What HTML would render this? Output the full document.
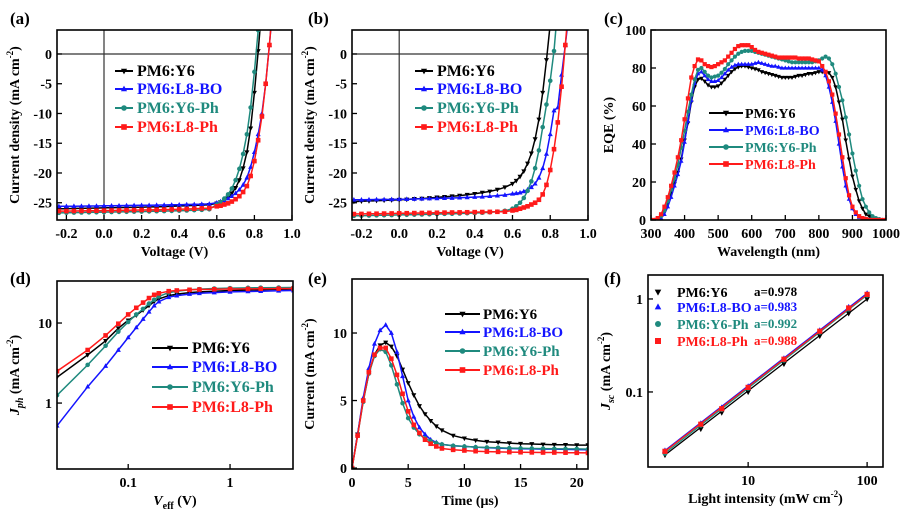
<!DOCTYPE html>
<html><head><meta charset="utf-8">
<style>
html,body{margin:0;padding:0;background:#fff;}
svg{display:block;font-family:"Liberation Serif",serif;font-weight:bold;}
</style></head>
<body>
<svg id="fig" width="909" height="519" viewBox="0 0 909 519" xmlns="http://www.w3.org/2000/svg"></svg>
<script>
// ---------- DATA ----------
// (a) J-V
const aV = [-0.24,-0.2,-0.16,-0.12,-0.08,-0.04,0,0.04,0.08,0.12,0.16,0.2,0.24,0.28,0.32,0.36,0.4,0.44,0.48,0.52,0.56,0.6,0.62,0.64,0.66,0.68,0.7,0.72,0.74,0.76,0.78,0.8,0.82,0.84,0.86,0.88,0.9];
const aY6 = [-26.0,-26.0,-25.95,-25.95,-25.9,-25.9,-25.85,-25.85,-25.8,-25.8,-25.75,-25.75,-25.7,-25.7,-25.65,-25.6,-25.55,-25.5,-25.45,-25.4,-25.35,-25.1,-24.9,-24.6,-24.1,-23.4,-22.5,-21.2,-19.2,-16.5,-12.5,-6.5,0.5,8,15,22,30];
const aBO = [-25.6,-25.6,-25.58,-25.56,-25.55,-25.54,-25.52,-25.5,-25.48,-25.46,-25.45,-25.43,-25.42,-25.4,-25.38,-25.35,-25.33,-25.3,-25.27,-25.24,-25.2,-25.0,-24.8,-24.6,-24.3,-23.9,-23.4,-22.8,-22.0,-20.8,-19.0,-16.5,-13.5,-10,-5,1.5,9];
const aY6Ph = [-26.7,-26.68,-26.66,-26.64,-26.62,-26.6,-26.58,-26.56,-26.54,-26.52,-26.5,-26.48,-26.46,-26.43,-26.4,-26.37,-26.33,-26.3,-26.25,-26.2,-26.1,-25.3,-24.9,-24.3,-23.6,-22.6,-21.2,-19.3,-16.8,-13.5,-9,-3,4,12,20,28,35];
const aL8Ph = [-26.4,-26.4,-26.38,-26.37,-26.35,-26.34,-26.32,-26.3,-26.28,-26.26,-26.24,-26.22,-26.2,-26.18,-26.15,-26.12,-26.1,-26.05,-26.0,-25.95,-25.9,-25.6,-25.5,-25.3,-25.1,-24.8,-24.4,-23.9,-23.2,-22.2,-20.5,-18,-14.5,-10.5,-5,1.5,9];
// (b) J-V
const bV = aV;
const bY6 = [-24.8,-24.75,-24.7,-24.65,-24.6,-24.55,-24.5,-24.45,-24.35,-24.3,-24.2,-24.1,-24.0,-23.9,-23.8,-23.65,-23.5,-23.3,-23.1,-22.8,-22.4,-21.8,-21.3,-20.6,-19.7,-18.4,-16.7,-14.3,-11,-6.5,-1,5,12,20,28,35,42];
const bBO = [-24.5,-24.5,-24.48,-24.46,-24.45,-24.43,-24.42,-24.4,-24.37,-24.34,-24.3,-24.27,-24.23,-24.2,-24.15,-24.1,-24.05,-24.0,-23.9,-23.8,-23.7,-23.5,-23.4,-23.3,-23.1,-22.8,-22.4,-21.8,-20.8,-19.2,-16.8,-13.5,-9.5,-9,-3.5,1.5,7];
const bY6Ph = [-27.2,-27.18,-27.15,-27.12,-27.1,-27.08,-27.05,-27.02,-27.0,-26.97,-26.94,-26.9,-26.87,-26.84,-26.8,-26.76,-26.72,-26.68,-26.6,-26.5,-26.35,-26.0,-25.6,-25.0,-24.2,-23.0,-21.4,-19.2,-16.2,-12.3,-8.5,-4.5,0.5,8,16,24,32];
const bL8Ph = [-26.9,-26.88,-26.86,-26.84,-26.82,-26.8,-26.78,-26.76,-26.74,-26.72,-26.7,-26.68,-26.66,-26.64,-26.62,-26.6,-26.58,-26.56,-26.54,-26.52,-26.5,-26.3,-26.2,-26.0,-25.8,-25.6,-25.3,-25.0,-24.5,-23.6,-22.0,-19.5,-16,-11.5,-5.5,1.5,9];
// (c) EQE
const cWl = [300,310,320,330,340,350,360,370,380,390,400,410,420,430,440,450,460,470,480,490,500,510,520,530,540,550,560,570,580,590,600,610,620,630,640,650,660,670,680,690,700,710,720,730,740,750,760,770,780,790,800,810,820,830,840,850,860,870,880,890,900,910,920,930,940,950,960,970,980,990,1000];
const cY6 = [0,0,0.5,2,5,9,14,19,25,32,42,51,62,70,74,74.5,73,71,70,70,70.5,72,74,76,78,79.5,80.5,81,81,80.5,80,79.5,79,78,77.5,77,76.5,76,75.5,75,75,75,75,75.5,76,76,76.5,77,77,77.5,78,78,77.5,77.5,75,70,62,53,42,32,23,16,10,6,3,2,1,0.5,0.2,0,0];
const cBO = [0,0,0,1,3,7,12,18,24,31,41,52,63,72,77,78,76,74,73,73,73.5,75,77,79,80.5,81.5,82,82,82,82,82,82.5,83,82.5,82,81.5,81,81,80.5,80,80,80,80,80,80,80,80,80,80,80,80,79,76,70,62,52,40,28,18,11,6,3,1.5,0.5,0,0,0,0,0,0,0];
const cY6Ph = [0,0,1,2,5,10,16,22,29,38,47,57,66,74,79,80,78,76,75,75.5,76,77.5,79.5,82,84,86,87.5,88.5,89,89,89,88.5,88,87.5,87,86.5,86,85.5,85,84.5,84,83.5,83,83,83,83,83,83,83,83.5,84,85,86,85,82,77,70,63,54,45,35,26,18,11,7,4,2,1,0.5,0,0];
const cL8Ph = [0,0,1,3,7,12,18,25,33,42,53,64,75,81,84.5,84,82,81,80.5,81,82,83,84,86,88,90,91.5,92,92,92,91,89.5,88.5,88,87.5,87,86.5,86,85.5,85.5,85.5,85.5,85.5,85.5,85,85,85,85,84.5,84,83.5,81,78,73,66,56,45,33,22,13,7,4,2,1,0.5,0,0,0,0,0,0];
// (d) Jph vs Veff
const dV = [0.02,0.04,0.06,0.08,0.1,0.12,0.14,0.16,0.18,0.2,0.25,0.3,0.4,0.5,0.7,1,1.5,2,3,4.2];
const dY6 = [2.1,4.0,6.0,8.6,10.8,12.5,14.5,16.5,18.5,20,22,23,24,24.5,25,25.5,25.8,26,26.3,26.5];
const dBO = [0.52,1.6,2.9,4.6,6.6,8.8,11.2,13.8,16.5,18.5,21,22,23,23.5,24,24.5,24.8,25,25.3,25.5];
const dY6Ph = [1.25,3.0,5.2,7.8,10.3,12.8,15,17.5,19.5,21.5,24,25,26,26.5,27,27.3,27.5,27.6,27.7,27.8];
const dL8Ph = [2.5,4.6,7.0,9.8,12.8,15.5,18,20.5,22.5,23.5,25,25.5,26,26.2,26.4,26.6,26.7,26.8,26.9,27];
// (e) transient current
const eT = [0,0.5,1,1.5,2,2.5,3,3.5,4,4.5,5,5.5,6,6.5,7,7.5,8,9,10,11,12,13,14,15,16,17,18,19,20,21];
const eY6 = [0,2.5,5,7,8.4,9.1,9.3,9.0,8.3,7.3,6.3,5.4,4.6,4.0,3.5,3.1,2.8,2.4,2.2,2.05,1.95,1.9,1.85,1.8,1.78,1.75,1.73,1.72,1.7,1.7];
const eBO = [0,2.5,5.2,7.4,9.2,10.2,10.6,10.0,8.6,6.8,5.0,3.8,3.0,2.5,2.1,1.9,1.75,1.65,1.6,1.55,1.5,1.48,1.45,1.43,1.42,1.4,1.4,1.38,1.37,1.36];
const eY6Ph = [0,2.4,4.9,7.0,8.3,8.8,8.6,7.6,6.2,4.8,3.7,3.0,2.5,2.2,2.0,1.85,1.75,1.65,1.6,1.55,1.52,1.5,1.48,1.46,1.45,1.44,1.43,1.42,1.42,1.4];
const eL8Ph = [0,2.4,5,7.1,8.4,8.9,8.9,8.1,6.9,5.5,4.2,3.2,2.6,2.1,1.8,1.6,1.45,1.35,1.3,1.25,1.22,1.2,1.18,1.17,1.16,1.15,1.15,1.14,1.13,1.12];
// (f) Jsc vs light intensity
const fP = [2,4,6,10,20,40,70,100];
const fY6 = [0.021,0.04,0.06,0.1,0.2,0.4,0.7,1.0];
const fBO = [0.0235,0.046,0.068,0.115,0.23,0.46,0.82,1.15];
const fY6Ph = [0.022,0.044,0.065,0.11,0.22,0.44,0.78,1.1];
const fL8Ph = [0.023,0.045,0.066,0.112,0.225,0.45,0.8,1.12];
const seriesNames = ["PM6:Y6","PM6:L8-BO","PM6:Y6-Ph","PM6:L8-Ph"];
const fSlopes = ["a=0.978","a=0.983","a=0.992","a=0.988"];
const ticksAx = [-0.2,0,0.2,0.4,0.6,0.8,1.0];
const ticksAy = [0,-5,-10,-15,-20,-25];
const ticksCx = [300,400,500,600,700,800,900,1000];
const ticksCy = [0,20,40,60,80,100];
const ticksDx = [0.1,1];
const ticksDy = [1,10];
const ticksEx = [0,5,10,15,20];
const ticksEy = [0,5,10];
const ticksFx = [10,100];
const ticksFy = [0.1,1];

// ---------- DRAW ----------
const NS = "http://www.w3.org/2000/svg";
const svg = document.getElementById("fig");
const COLORS = ["#000000","#1414ff","#1f8a7e","#ff1a1a"];
const MARKS = ["tdown","tup","circle","square"];

function el(tag, attrs, parent, name) {
  const e = document.createElementNS(NS, tag);
  for (const k in attrs) e.setAttribute(k, attrs[k]);
  
  
  (parent || svg).appendChild(e);
  return e;
}
function txt(x, y, s, opts, parent, name) {
  const t = el("text", Object.assign({x:x, y:y, "font-size":14, fill:"#000"}, opts||{}), parent, name);
  t.textContent = s;
  return t;
}
function makeScale(d0, d1, p0, p1, log) {
  if (log) { const a = Math.log10(d0), b = Math.log10(d1); return v => p0 + (Math.log10(v) - a) / (b - a) * (p1 - p0); }
  return v => p0 + (v - d0) / (d1 - d0) * (p1 - p0);
}
function marker(g, type, x, y, c, s, name) {
  if (type === "square") el("rect", {x:x-s, y:y-s, width:2*s, height:2*s, fill:c}, g, name);
  else if (type === "circle") el("circle", {cx:x, cy:y, r:s, fill:c}, g, name);
  else if (type === "tup") el("polygon", {points:`${x},${y-s*1.2} ${x-s*1.1},${y+s*0.8} ${x+s*1.1},${y+s*0.8}`, fill:c}, g, name);
  else el("polygon", {points:`${x},${y+s*1.2} ${x-s*1.1},${y-s*0.8} ${x+s*1.1},${y-s*0.8}`, fill:c}, g, name);
}

function panel(p) {
  const g = el("g", {}, svg, "panel-" + p.id);
  const sx = makeScale(p.xmin, p.xmax, p.x0, p.x1, p.xlog);
  const sy = makeScale(p.ymin, p.ymax, p.y1, p.y0, p.ylog);
  const cid = "clip-" + p.id;
  const cp = el("clipPath", {id:cid}, g, "clip-" + p.id);
  el("rect", {x:p.x0, y:p.y0, width:p.x1-p.x0, height:p.y1-p.y0}, cp, "clip-rect");
  txt(p.lx, p.ly, "(" + p.id + ")", {"font-size":17}, g, "panel-label-" + p.id);
  if (p.zero) {
    el("line", {x1:p.x0, x2:p.x1, y1:sy(0), y2:sy(0), stroke:"#333", "stroke-width":1.2}, g, "zero-line-h");
    el("line", {x1:sx(0), x2:sx(0), y1:p.y0, y2:p.y1, stroke:"#333", "stroke-width":1.2}, g, "zero-line-v");
  }
  const sg = el("g", {"clip-path":`url(#${cid})`}, g, "series-group-" + p.id);
  p.series.forEach((ys, i) => {
    const pts = p.xs.map((x, j) => `${sx(x).toFixed(1)},${sy(ys[j]).toFixed(1)}`).join(" ");
    if (p.lines !== false) el("polyline", {points:pts, fill:"none", stroke:COLORS[i], "stroke-width":1.5}, sg, "series-line-" + i);
    else el("line", {x1:sx(p.xs[0]), y1:sy(ys[0]), x2:sx(p.xs[p.xs.length-1]), y2:sy(ys[ys.length-1]), stroke:COLORS[i], "stroke-width":1.3}, sg, "fit-line-" + i);
    p.xs.forEach((x, j) => marker(sg, MARKS[i], sx(x), sy(ys[j]), COLORS[i], p.ms || 2.3, "series-point"));
  });
  el("rect", {x:p.x0, y:p.y0, width:p.x1-p.x0, height:p.y1-p.y0, fill:"none", stroke:"#000", "stroke-width":1.6}, g, "plot-frame-" + p.id);
  p.xt.forEach(v => {
    el("line", {x1:sx(v), x2:sx(v), y1:p.y1, y2:p.y1-5, stroke:"#000", "stroke-width":1.3}, g, "x-tick");
    txt(sx(v), p.y1+18, p.xfmt ? p.xfmt(v) : String(v), {"text-anchor":"middle", "font-size":14}, g, "x-tick-label");
  });
  p.yt.forEach(v => {
    el("line", {x1:p.x0, x2:p.x0+5, y1:sy(v), y2:sy(v), stroke:"#000", "stroke-width":1.3}, g, "y-tick");
    txt(p.x0-5, sy(v)+5, p.yfmt ? p.yfmt(v) : String(v), {"text-anchor":"end", "font-size":14}, g, "y-tick-label");
  });
  p.leg.forEach((r, i) => {
    if (p.legLine) {
      el("line", {x1:p.legX, x2:p.legX+p.legLine, y1:r, y2:r, stroke:COLORS[i], "stroke-width":2}, g, "legend-line");
      marker(g, MARKS[i], p.legX+p.legLine/2, r, COLORS[i], 2.8, "legend-marker");
    } else {
      marker(g, MARKS[i], p.legX, r, COLORS[i], 3, "legend-marker");
    }
    txt(p.legTx, r+5, seriesNames[i], {fill:COLORS[i], "font-size":p.legFs||15}, g, "legend-entry");
    if (p.slopes) txt(p.slopeX, r+4, p.slopes[i], {fill:COLORS[i], "font-size":13}, g, "slope-label");
  });
  txt((p.x0+p.x1)/2, p.y1+36, "", {"text-anchor":"middle"}, g, "x-axis-title").innerHTML = p.xtitle;
  const yt = txt(0, 0, "", {"text-anchor":"middle", transform:`translate(${p.x0-38},${(p.y0+p.y1)/2}) rotate(-90)`}, g, "y-axis-title");
  yt.innerHTML = p.ytitle;
}

const fmt1 = v => v.toFixed(1);
const jTitle = 'Current density (mA cm<tspan dy="-6" font-size="9">-2</tspan><tspan dy="6">)</tspan>';
panel({id:"a", x0:57, x1:292, y0:30, y1:220, xmin:-0.25, xmax:1.0, ymin:-27.9, ymax:4.03, zero:true,
  xs:aV, series:[aY6,aBO,aY6Ph,aL8Ph], xt:ticksAx, yt:ticksAy, xfmt:fmt1, lx:10, ly:24,
  leg:[71,89,108,127], legLine:18, legX:115, legTx:137, legFs:16, xtitle:"Voltage (V)", ytitle:jTitle});
panel({id:"b", x0:352, x1:588, y0:30, y1:220, xmin:-0.25, xmax:1.0, ymin:-27.9, ymax:4.03, zero:true,
  xs:bV, series:[bY6,bBO,bY6Ph,bL8Ph], xt:ticksAx, yt:ticksAy, xfmt:fmt1, lx:308, ly:24,
  leg:[71,89,108,127], legLine:18, legX:415, legTx:437, legFs:16, xtitle:"Voltage (V)", ytitle:jTitle});
panel({id:"c", x0:651, x1:886, y0:30, y1:220, xmin:300, xmax:1000, ymin:0, ymax:100, ms:2.1,
  xs:cWl, series:[cY6,cBO,cY6Ph,cL8Ph], xt:ticksCx, yt:ticksCy, lx:604, ly:24,
  leg:[113,130,147,164], legLine:34, legX:709, legTx:745, legFs:14, xtitle:"Wavelength (nm)", ytitle:"EQE (%)"});
panel({id:"d", x0:57, x1:293, y0:281, y1:469, xmin:0.02, xmax:4.15, ymin:0.15, ymax:33.5, xlog:true, ylog:true,
  xs:dV, series:[dY6,dBO,dY6Ph,dL8Ph], xt:ticksDx, yt:ticksDy, lx:10, ly:284,
  leg:[348,367,387,407], legLine:36, legX:152, legTx:192, legFs:16,
  xtitle:'<tspan font-style="italic">V</tspan><tspan dy="4" font-size="10">eff</tspan><tspan dy="-4"> (V)</tspan>',
  ytitle:'<tspan font-style="italic">J</tspan><tspan dy="4" font-size="10" font-style="italic">ph</tspan><tspan dy="-4"> (mA cm</tspan><tspan dy="-6" font-size="9">-2</tspan><tspan dy="6">)</tspan>'});
panel({id:"e", x0:352, x1:588, y0:279, y1:469, xmin:0, xmax:21, ymin:-0.07, ymax:14,
  xs:eT, series:[eY6,eBO,eY6Ph,eL8Ph], xt:ticksEx, yt:ticksEy, lx:308, ly:284,
  leg:[314,332,351,370], legLine:35, legX:445, legTx:483, legFs:15,
  xtitle:"Time (μs)", ytitle:'Current (mA cm<tspan dy="-6" font-size="9">-2</tspan><tspan dy="6">)</tspan>'});
panel({id:"f", x0:648, x1:883, y0:275, y1:467, xmin:1.44, xmax:136, ymin:0.0156, ymax:1.81, xlog:true, ylog:true, lines:false, ms:2.6,
  xs:fP, series:[fY6,fBO,fY6Ph,fL8Ph], xt:ticksFx, yt:ticksFy, lx:604, ly:284,
  leg:[292,307,324,341], legX:658, legTx:677, legFs:14, slopes:fSlopes, slopeX:754,
  xtitle:'Light intensity (mW cm<tspan dy="-6" font-size="9">-2</tspan><tspan dy="6">)</tspan>',
  ytitle:'<tspan font-style="italic">J</tspan><tspan dy="4" font-size="10" font-style="italic">sc</tspan><tspan dy="-4"> (mA cm</tspan><tspan dy="-6" font-size="9">-2</tspan><tspan dy="6">)</tspan>'});
</script>
</body></html>
